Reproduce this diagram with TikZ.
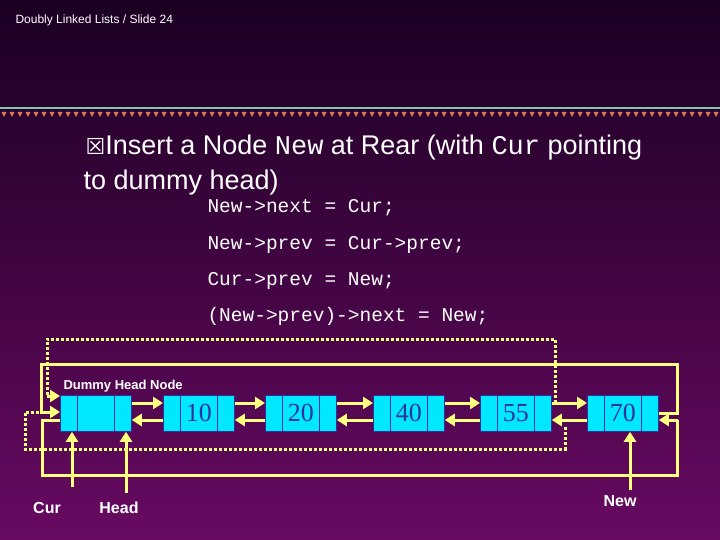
\documentclass[tikz,border=0pt]{standalone}
\usepackage{fontspec}
\setmainfont{Liberation Sans}
\newfontfamily\codefont{Liberation Mono}
\newfontfamily\numfont{Liberation Serif}
\newfontfamily\symfont{DejaVu Sans}
\usetikzlibrary{arrows.meta}
\definecolor{bgtop}{HTML}{1A0022}
\definecolor{bgbot}{HTML}{680A62}
\definecolor{cellcyan}{HTML}{00E8FF}
\definecolor{cellline}{HTML}{3030A0}
\definecolor{ptr}{HTML}{FFFF80}
\definecolor{rule}{HTML}{80C8A8}
\definecolor{tri}{HTML}{E07850}
\tikzset{
  cell/.style={draw=cellline,fill=cellcyan,line width=0.8pt,minimum height=36pt,inner sep=0pt,anchor=north west},
  link/.style={ptr,line width=3pt,-{Triangle[length=10pt,width=12pt]}},
  oldlink/.style={ptr,line width=3pt,dash pattern=on 3pt off 2pt},
  wire/.style={ptr,line width=3pt},
  code/.style={anchor=base west,text=white,font=\codefont\fontsize{19.5}{19.5}\selectfont},
  tag/.style={text=white,font=\bfseries\fontsize{16}{16}\selectfont}
}
% one list node: left cell, data cell, right cell
\newcommand{\listnode}[3]{%
  \node[cell,minimum width=17pt] (#1l) at (#2,395) {};
  \node[cell,minimum width=37pt] (#1m) at (#2+17,395)
    {\numfont\fontsize{26}{26}\selectfont\color{cellline}#3};
  \node[cell,minimum width=17pt] (#1r) at (#2+54,395) {};
}
\begin{document}
\begin{tikzpicture}[x=1pt,y=-1pt]
\shade[top color=bgtop,bottom color=bgbot] (0,0) rectangle (720,540);
\useasboundingbox (0,0) rectangle (720,540);

% header
\node[anchor=base west,text=white,font=\fontsize{12}{12}\selectfont] (title) at (12,24) {Doubly Linked Lists / Slide 24};
\draw[rule,line width=1.5pt] (0,108) -- (720,108);
\foreach \x in {4,12,...,716}
  \fill[tri] (\x-2.5,112) -- (\x+2.5,112) -- (\x,117) -- cycle;

% text
\node[anchor=base west,text=white,font=\fontsize{27}{27}\selectfont] (line1) at (82,155)
  {{\symfont\fontsize{22}{22}\selectfont ☒}Insert a Node {\codefont New} at Rear (with {\codefont Cur} pointing};
\node[anchor=base west,text=white,font=\fontsize{27}{27}\selectfont] (line2) at (80,190) {to dummy head)};
\node[code] (c1) at (204,213) {New->next = Cur;};
\node[code] (c2) at (204,249) {New->prev = Cur->prev;};
\node[code] (c3) at (204,285) {Cur->prev = New;};
\node[code] (c4) at (204,321) {(New->prev)->next = New;};

% list
\node[anchor=base west,text=white,font=\bfseries\fontsize{13}{13}\selectfont] (dummy) at (60,389) {Dummy Head Node};
\listnode{h}{60}{}
\listnode{a}{163}{10}
\listnode{b}{265}{20}
\listnode{c}{373}{40}
\listnode{d}{480}{55}
\listnode{e}{587}{70}

\foreach \p/\q in {h/a,a/b,b/c,c/d,d/e}{
  \draw[link] (\p r.east |- 0,403) -- (\q l.west |- 0,403);
  \draw[link] (\q l.west |- 0,420) -- (\p r.east |- 0,420);
}

% old pointers
\draw[oldlink] (555,403) -- (555,339) -- (47,339) -- (47,396);
\draw[link] (47,396) -- (hl.west |- 0,396);
\draw[oldlink] (565,427) -- (565,449) -- (25,449) -- (25,412) -- (41,412);

% new pointers
\draw[wire] (er.east |- 0,413) -- (677,413) -- (677,364) -- (41,364) -- (41,412);
\draw[link] (40,412) -- (hl.west |- 0,412);
\draw[wire] (hl.west |- 0,420) -- (42,420) -- (42,475) -- (677,475) -- (677,420);
\draw[link] (678,420) -- (er.east |- 0,420);

% external pointers
\coordinate (curend) at (72,487);
\coordinate (headend) at (126,493);
\coordinate (newend) at (630,490);
\draw[link] (curend) -- (hl.south -| curend);
\draw[link] (headend) -- (hr.south -| headend);
\draw[link] (newend) -- (em.south -| newend);
\node[tag,anchor=base] (cur) at (47,513) {Cur};
\node[tag,anchor=base] (head) at (119,513) {Head};
\node[tag,anchor=base] (new) at (620,506) {New};
\end{tikzpicture}
\end{document}
